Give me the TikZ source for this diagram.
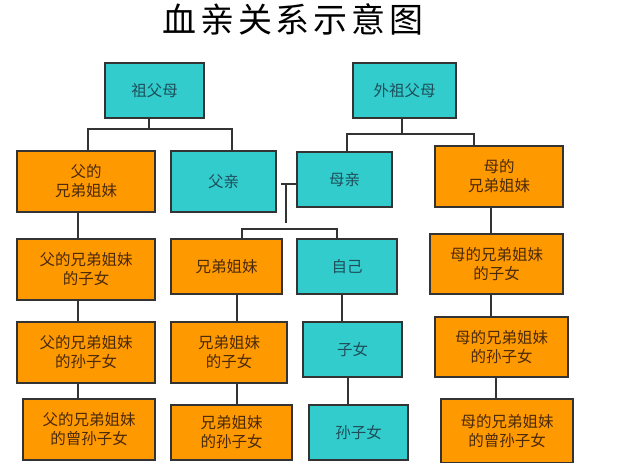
\documentclass[tikz,border=0pt]{standalone}
\usepackage{fontspec}
\newfontfamily\cjk{Noto Sans CJK SC}
\newfontfamily\cjktitle[LetterSpace=11]{Noto Sans CJK SC}
\definecolor{boxorange}{HTML}{FF9900}
\definecolor{boxcyan}{HTML}{33CCCC}
\definecolor{boxline}{HTML}{333333}
\definecolor{txtbrown}{HTML}{4A2A0A}
\definecolor{txtteal}{HTML}{1E4E5A}
\definecolor{linegray}{HTML}{333333}
\begin{document}
\begin{tikzpicture}[x=1pt,y=-1pt,
  box/.style={draw=boxline, line width=1.3pt, inner sep=0pt, align=center,
    font=\cjk\fontsize{15.5}{19}\selectfont},
  obox/.style={box, fill=boxorange, text=txtbrown},
  cbox/.style={box, fill=boxcyan, text=txtteal},
  conn/.style={draw=linegray, line width=1.2pt}]
\useasboundingbox[fill=white] (0,0) rectangle (640,463);

\node[font=\cjktitle\fontsize{34}{36}\selectfont, text=black, inner sep=0pt] (title) at (293,19) {血亲关系示意图};

% row 1
\node[cbox, minimum width=99pt, minimum height=55pt] (zfm) at (154.5,90.5) {祖父母};
\node[cbox, minimum width=103pt, minimum height=55pt] (wzfm) at (404.5,90.5) {外祖父母};
% row 2
\node[obox, minimum width=138pt, minimum height=61pt] (fxd) at (86,181.5) {父的\\兄弟姐妹};
\node[cbox, minimum width=105pt, minimum height=61pt] (fq) at (223.5,181.5) {父亲};
\node[cbox, minimum width=95pt, minimum height=55pt] (mq) at (344.5,179.5) {母亲};
\node[obox, minimum width=128pt, minimum height=61pt] (mxd) at (499,176.5) {母的\\兄弟姐妹};
% row 3
\node[obox, minimum width=138pt, minimum height=61pt] (fz) at (86,269.5) {父的兄弟姐妹\\的子女};
\node[obox, minimum width=111pt, minimum height=55pt] (xd) at (226.5,266.5) {兄弟姐妹};
\node[cbox, minimum width=100pt, minimum height=55pt] (zj) at (347,266.5) {自己};
\node[obox, minimum width=133pt, minimum height=60pt] (mz) at (496.5,264) {母的兄弟姐妹\\的子女};
% row 4
\node[obox, minimum width=138pt, minimum height=61pt] (fs) at (86,352.5) {父的兄弟姐妹\\的孙子女};
\node[obox, minimum width=116pt, minimum height=61pt] (xz) at (229,352.5) {兄弟姐妹\\的子女};
\node[cbox, minimum width=99pt, minimum height=55pt] (zn) at (352.5,349.5) {子女};
\node[obox, minimum width=133pt, minimum height=60pt] (ms) at (501.5,347) {母的兄弟姐妹\\的孙子女};
% row 5
\node[obox, minimum width=132pt, minimum height=61pt] (fc) at (89,429.5) {父的兄弟姐妹\\的曾孙子女};
\node[obox, minimum width=121pt, minimum height=55pt] (xs) at (231.5,432.5) {兄弟姐妹\\的孙子女};
\node[cbox, minimum width=99pt, minimum height=55pt] (sz) at (358.5,432.5) {孙子女};
\node[obox, minimum width=132pt, minimum height=64pt] (mc) at (507,431) {母的兄弟姐妹\\的曾孙子女};

% junction coordinates
\coordinate (ja) at (149,129);
\coordinate (jl) at (88,129);
\coordinate (jr) at (232,129);
\coordinate (ka) at (402,134);
\coordinate (kl) at (347,134);
\coordinate (kr) at (474,134);
\coordinate (pm) at (281,184);
\coordinate (pv) at (286,184);
\coordinate (pb) at (286,223);
\coordinate (hl) at (242,229);
\coordinate (hr) at (337,229);
\coordinate (v78) at (78,0);
\coordinate (v237) at (237,0);
\coordinate (v342) at (342,0);
\coordinate (v348) at (348,0);
\coordinate (v491) at (491,0);
\coordinate (v496) at (496,0);

% grandparents
\draw[conn] (zfm.south -| ja) -- (ja);
\draw[conn] (fxd.north -| jl) |- (jr) -- (fq.north -| jr);
\draw[conn] (wzfm.south -| ka) -- (ka);
\draw[conn] (mq.north -| kl) |- (kr) -- (mxd.north -| kr);
% parents
\draw[conn] (pm) -- (mq.west |- pm);
\draw[conn] (pv) -- (pb);
\draw[conn] (xd.north -| hl) |- (hr) -- (zj.north -| hr);
% chains
\draw[conn] (fxd.south -| v78) -- (fz.north -| v78);
\draw[conn] (fz.south -| v78) -- (fs.north -| v78);
\draw[conn] (fs.south -| v78) -- (fc.north -| v78);
\draw[conn] (xd.south -| v237) -- (xz.north -| v237);
\draw[conn] (xz.south -| v237) -- (xs.north -| v237);
\draw[conn] (zj.south -| v342) -- (zn.north -| v342);
\draw[conn] (zn.south -| v348) -- (sz.north -| v348);
\draw[conn] (mxd.south -| v491) -- (mz.north -| v491);
\draw[conn] (mz.south -| v491) -- (ms.north -| v491);
\draw[conn] (ms.south -| v496) -- (mc.north -| v496);
\end{tikzpicture}
\end{document}
